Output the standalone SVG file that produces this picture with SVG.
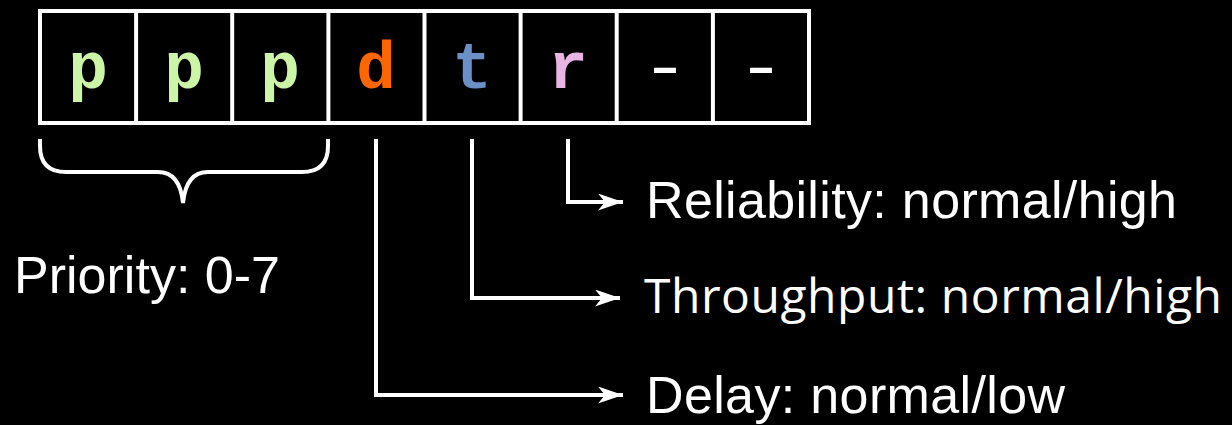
<svg xmlns="http://www.w3.org/2000/svg" width="1232" height="425" viewBox="0 0 1232 425">
  <style>
    .cell { fill: none; stroke: #ffffff; stroke-width: 4; }
    .bit { font-family: "Liberation Mono", "Courier New", monospace; font-weight: bold; font-size: 66px; text-anchor: middle; }
    .dash { font-family: "Liberation Mono", "Courier New", monospace; font-size: 66px; fill: #ffffff; }
    .label { font-family: "Liberation Sans", Arial, sans-serif; font-size: 52px; fill: #ffffff; }
    .label2 { font-family: "Open Sans", "Liberation Sans", sans-serif; font-size: 48px; fill: #ffffff; }
    .wire { fill: none; stroke: #ffffff; stroke-width: 4; }
  </style>
  <defs>
    <marker id="arrow" markerUnits="userSpaceOnUse" markerWidth="26" markerHeight="17" refX="25" refY="8.5" orient="auto" viewBox="0 0 26 17">
      <path d="M0,0 L25,8.5 L0,17 L7,8.5 Z" fill="#ffffff"/>
    </marker>
  </defs>
  <rect width="1232" height="425" fill="#000000"/>

  <!-- TOS byte: eight bit cells -->
  <g id="byte">
    <rect class="cell" x="40" y="11" width="769" height="112"/>
    <line class="cell" x1="136.1" y1="11" x2="136.1" y2="123"/>
    <line class="cell" x1="232.2" y1="11" x2="232.2" y2="123"/>
    <line class="cell" x1="328.4" y1="11" x2="328.4" y2="123"/>
    <line class="cell" x1="424.5" y1="11" x2="424.5" y2="123"/>
    <line class="cell" x1="520.6" y1="11" x2="520.6" y2="123"/>
    <line class="cell" x1="616.7" y1="11" x2="616.7" y2="123"/>
    <line class="cell" x1="712.9" y1="11" x2="712.9" y2="123"/>
  </g>
  <g id="bit-p1"><text class="bit" x="88" y="88" fill="#ccf5a8">p</text></g>
  <g id="bit-p2"><text class="bit" x="184" y="88" fill="#ccf5a8">p</text></g>
  <g id="bit-p3"><text class="bit" x="280" y="88" fill="#ccf5a8">p</text></g>
  <g id="bit-d"><text class="bit" x="376" y="88" fill="#ff6600">d</text></g>
  <g id="bit-t"><text class="bit" x="472" y="88" fill="#6b8fc7">t</text></g>
  <g id="bit-r"><text class="bit" x="568" y="88" fill="#e8b4e3">r</text></g>
  <g id="bit-u1"><text class="dash" x="641" y="88" textLength="48" lengthAdjust="spacingAndGlyphs">-</text></g>
  <g id="bit-u2"><text class="dash" x="737" y="88" textLength="48" lengthAdjust="spacingAndGlyphs">-</text></g>

  <!-- Priority brace and label -->
  <g id="priority">
    <path class="wire" stroke-width="3.5" d="M40,139 L40,146 Q40,172 66,172 L158,172 Q180,172 183,203 Q186,172 208,172 L302,172 Q328,172 328,146 L328,139"/>
    <text class="label" x="14" y="293" textLength="266">Priority: 0-7</text>
  </g>

  <!-- Connectors -->
  <g id="connectors">
    <path class="wire" d="M568,139 L568,202 L623,202" marker-end="url(#arrow)"/>
    <path class="wire" d="M472,139 L472,298 L620,298" marker-end="url(#arrow)"/>
    <path class="wire" d="M376,139 L376,395 L623,395" marker-end="url(#arrow)"/>
  </g>

  <g id="reliability"><text class="label" x="646" y="218" textLength="531">Reliability: normal/high</text></g>
  <g id="throughput"><text class="label2" x="644" y="313" textLength="578">Throughput: normal/high</text></g>
  <g id="delay"><text class="label" x="646" y="413" textLength="419">Delay: normal/low</text></g>
</svg>
